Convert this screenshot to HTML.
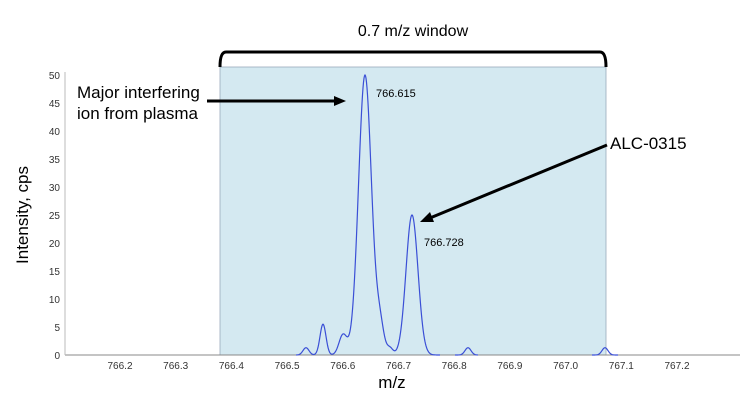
<!DOCTYPE html>
<html><head><meta charset="utf-8"><style>
html,body{margin:0;padding:0;background:#fff;}
svg{display:block;font-family:"Liberation Sans",sans-serif;}
</style></head><body>
<svg id="s" width="750" height="409" viewBox="0 0 750 409" xmlns="http://www.w3.org/2000/svg">
<rect x="220" y="67" width="386" height="288" fill="#d4e9f1" stroke="#9ab" stroke-width="0.8"/>
<path d="M220,67 Q220,52 226,52 L600,52 Q606,52 606,67" fill="none" stroke="#000" stroke-width="3"/>
<text x="413" y="36" font-size="16" text-anchor="middle">0.7 m/z window</text>
<line x1="65" y1="355" x2="740" y2="355" stroke="#888" stroke-width="1"/>
<line x1="65" y1="72" x2="65" y2="355" stroke="#bbb" stroke-width="1"/>
<g id="yt" font-size="10" fill="#333" text-anchor="end"></g>
<g id="xt" font-size="10" fill="#333" text-anchor="middle"></g>
<path id="p" fill="none" stroke="#3a4fd6" stroke-width="1.2"/>
<text x="376" y="97" font-size="11">766.615</text>
<text x="424" y="246" font-size="11">766.728</text>
<text x="77" y="98" font-size="17">Major interfering</text>
<text x="77" y="119" font-size="17">ion from plasma</text>
<line x1="207" y1="101" x2="336" y2="101" stroke="#000" stroke-width="3"/>
<polygon points="346,101 334,96 334,106" fill="#000"/>
<text x="610" y="149" font-size="17">ALC-0315</text>
<line x1="607" y1="145" x2="430" y2="218" stroke="#000" stroke-width="3"/>
<polygon points="420,222 430,212 434,222" fill="#000"/>
<text transform="translate(28,215) rotate(-90)" font-size="17" text-anchor="middle">Intensity, cps</text>
<text x="392" y="388" font-size="17" text-anchor="middle">m/z</text>
</svg>
<script>
var ns="http://www.w3.org/2000/svg";
function X(m){return 120+(m-766.2)*557;}
function Y(v){return 355-v*5.6;}
var yt=document.getElementById('yt');
for(var v=0;v<=50;v+=5){var t=document.createElementNS(ns,'text');t.setAttribute('x',60);t.setAttribute('y',Y(v)+4);t.textContent=v;yt.appendChild(t);}
var xt=document.getElementById('xt');
for(var i=0;i<=10;i++){var m=766.2+i*0.1;var t=document.createElementNS(ns,'text');t.setAttribute('x',X(m));t.setAttribute('y',369);t.textContent=m.toFixed(1);xt.appendChild(t);}
var pk=[[306,1.3,3],[323,5.5,3],[343,3.6,4],[365,50,6.5],[380,5,4],[390,1.2,3],[412,25,6],[468,1.3,3],[605,1.3,3]];
var segs=[[296,440],[455,478],[592,618]];
var d="";
segs.forEach(function(s){for(var x=s[0];x<=s[1];x+=0.5){var v=0;pk.forEach(function(p){v+=p[1]*Math.exp(-Math.pow(x-p[0],2)/(2*p[2]*p[2]));});d+=(x==s[0]?"M":"L")+x+","+Y(v).toFixed(2);}});
document.getElementById('p').setAttribute('d',d);
</script>
</body></html>
